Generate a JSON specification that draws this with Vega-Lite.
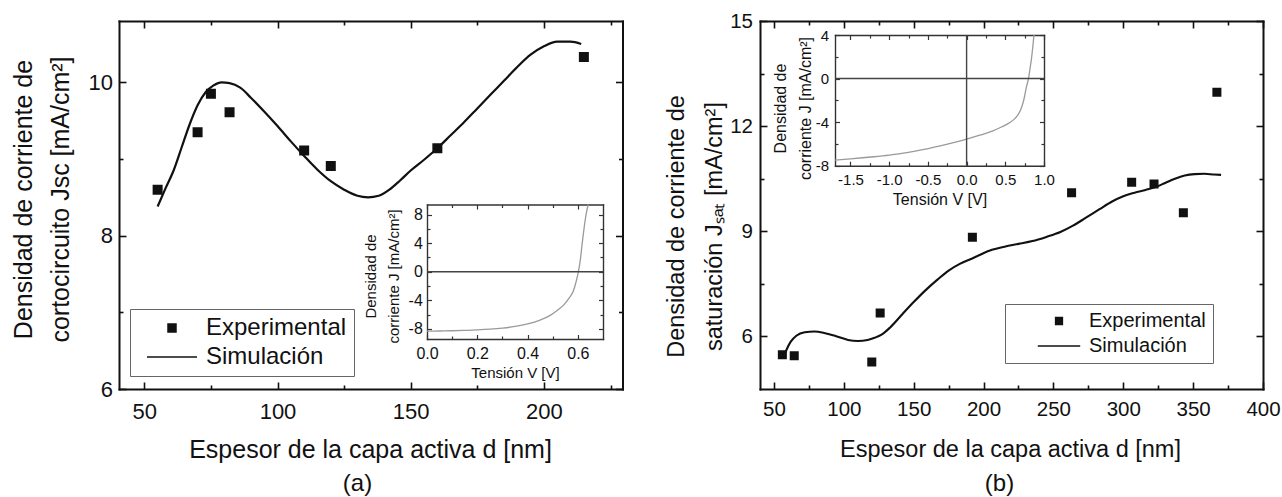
{
"$schema": "https://vega.github.io/schema/vega-lite/v6.json",
"width": 1282, "height": 497, "autosize": {"type": "none"}, "padding": 0, "background": "white",
"config": {
  "view": {"stroke": null},
  "axis": {"grid": false, "labelFont": "Liberation Sans", "titleFont": "Liberation Sans", "labelColor": "#111", "titleColor": "#111", "domainColor": "#111", "tickColor": "#111", "titleFontWeight": "normal", "labelFlush": false, "labelOverlap": false, "labelBound": false, "domainCap": "square", "tickWidth": 1.6, "domainWidth": 2},
  "legend": {"labelFont": "Liberation Sans", "labelColor": "#111"}
},
"datasets": {
  "a_exp": [{"d":55,"J":8.60,"serie":"Experimental"},{"d":70,"J":9.35,"serie":"Experimental"},{"d":75,"J":9.85,"serie":"Experimental"},{"d":82,"J":9.61,"serie":"Experimental"},{"d":110,"J":9.11,"serie":"Experimental"},{"d":120,"J":8.91,"serie":"Experimental"},{"d":160,"J":9.14,"serie":"Experimental"},{"d":215,"J":10.33,"serie":"Experimental"}],
  "a_sim": [{"d":55,"J":8.38},{"d":58,"J":8.62},{"d":61,"J":8.85},{"d":64,"J":9.15},{"d":67,"J":9.45},{"d":70,"J":9.7},{"d":73,"J":9.87},{"d":76,"J":9.96},{"d":79,"J":10.0},{"d":82,"J":9.99},{"d":86,"J":9.93},{"d":90,"J":9.8},{"d":95,"J":9.62},{"d":100,"J":9.43},{"d":105,"J":9.23},{"d":110,"J":9.04},{"d":115,"J":8.86},{"d":120,"J":8.71},{"d":125,"J":8.6},{"d":130,"J":8.52},{"d":134,"J":8.5},{"d":138,"J":8.52},{"d":142,"J":8.6},{"d":146,"J":8.72},{"d":150,"J":8.85},{"d":155,"J":8.99},{"d":160,"J":9.14},{"d":165,"J":9.31},{"d":170,"J":9.48},{"d":175,"J":9.66},{"d":180,"J":9.84},{"d":185,"J":10.02},{"d":190,"J":10.2},{"d":195,"J":10.36},{"d":200,"J":10.47},{"d":205,"J":10.53},{"d":210,"J":10.53},{"d":214,"J":10.5}],
  "b_exp": [{"d":56,"J":5.48,"serie":"Experimental"},{"d":64.5,"J":5.45,"serie":"Experimental"},{"d":120,"J":5.27,"serie":"Experimental"},{"d":126,"J":6.67,"serie":"Experimental"},{"d":192,"J":8.83,"serie":"Experimental"},{"d":263,"J":10.1,"serie":"Experimental"},{"d":306,"J":10.4,"serie":"Experimental"},{"d":322,"J":10.35,"serie":"Experimental"},{"d":343,"J":9.53,"serie":"Experimental"},{"d":367,"J":12.97,"serie":"Experimental"}],
  "b_sim": [{"d":57,"J":5.42},{"d":59,"J":5.62},{"d":62,"J":5.85},{"d":66,"J":6.02},{"d":72,"J":6.12},{"d":79,"J":6.14},{"d":86,"J":6.1},{"d":95,"J":6.0},{"d":103,"J":5.9},{"d":110,"J":5.87},{"d":117,"J":5.9},{"d":122,"J":5.96},{"d":127,"J":6.05},{"d":133,"J":6.25},{"d":142,"J":6.64},{"d":150,"J":6.98},{"d":158,"J":7.3},{"d":167,"J":7.62},{"d":175,"J":7.88},{"d":183,"J":8.07},{"d":191,"J":8.21},{"d":198,"J":8.34},{"d":206,"J":8.47},{"d":215,"J":8.56},{"d":225,"J":8.64},{"d":235,"J":8.72},{"d":245,"J":8.84},{"d":255,"J":8.98},{"d":264,"J":9.16},{"d":273,"J":9.38},{"d":283,"J":9.63},{"d":292,"J":9.85},{"d":300,"J":10.0},{"d":308,"J":10.1},{"d":316,"J":10.18},{"d":323,"J":10.26},{"d":330,"J":10.38},{"d":337,"J":10.5},{"d":344,"J":10.59},{"d":351,"J":10.63},{"d":358,"J":10.64},{"d":365,"J":10.62},{"d":370,"J":10.61}],
  "ia_iv": [{"V":0,"J":-8.3},{"V":0.05,"J":-8.28},{"V":0.1,"J":-8.25},{"V":0.15,"J":-8.2},{"V":0.2,"J":-8.13},{"V":0.25,"J":-8.03},{"V":0.3,"J":-7.88},{"V":0.35,"J":-7.65},{"V":0.4,"J":-7.3},{"V":0.45,"J":-6.75},{"V":0.49,"J":-6.1},{"V":0.52,"J":-5.35},{"V":0.545,"J":-4.6},{"V":0.565,"J":-3.7},{"V":0.582,"J":-2.7},{"V":0.593,"J":-1.4},{"V":0.602,"J":0.0},{"V":0.61,"J":1.7},{"V":0.617,"J":3.9},{"V":0.623,"J":5.6},{"V":0.629,"J":7.2},{"V":0.636,"J":8.6},{"V":0.641,"J":9.4}],
  "ib_iv": [{"V":-1.7,"J":-7.49},{"V":-1.5,"J":-7.38},{"V":-1.2,"J":-7.18},{"V":-1.0,"J":-7.02},{"V":-0.77,"J":-6.79},{"V":-0.55,"J":-6.5},{"V":-0.34,"J":-6.17},{"V":-0.17,"J":-5.88},{"V":0.0,"J":-5.56},{"V":0.17,"J":-5.2},{"V":0.34,"J":-4.8},{"V":0.45,"J":-4.45},{"V":0.56,"J":-4.04},{"V":0.62,"J":-3.7},{"V":0.67,"J":-3.27},{"V":0.7,"J":-2.85},{"V":0.73,"J":-2.2},{"V":0.75,"J":-1.6},{"V":0.77,"J":-0.85},{"V":0.79,"J":-0.3},{"V":0.8,"J":0.0},{"V":0.82,"J":0.95},{"V":0.84,"J":1.93},{"V":0.855,"J":2.9},{"V":0.87,"J":3.9},{"V":0.872,"J":4.0}],
  "one": [{"k":0}]
},
"resolve": {"scale": {"x": "independent", "y": "independent", "shape": "independent"}, "axis": {"x": "independent", "y": "independent"}, "legend": {"shape": "independent"}},
"layer": [
  {"data": {"name": "a_exp"},
   "mark": {"type": "point", "filled": true, "color": "#111", "stroke": "#111", "strokeWidth": 2, "size": 100, "opacity": 1},
   "encoding": {
     "x": {"field": "d", "type": "quantitative", "scale": {"domain": [40.5, 229.5], "range": [119, 622.5], "nice": false, "zero": false},
       "axis": {"orient": "bottom", "offset": -108, "values": [50,100,150,200], "tickSize": -7, "labelFontSize": 22, "labelPadding": 19.4, "title": "Espesor de la capa activa d [nm]", "titleFontSize": 25, "titleX": 370, "titleY": 68, "titleAlign": "center", "titleBaseline": "alphabetic", "titleAngle": 0}},
     "y": {"field": "J", "type": "quantitative", "scale": {"domain": [6, 10.8], "range": [389, 21], "nice": false, "zero": false},
       "axis": {"orient": "left", "offset": -119, "values": [6,8,10], "tickSize": -7, "labelFontSize": 22, "labelPadding": 13.5, "title": ["Densidad de corriente de", "cortocircuito Jsc [mA/cm²]"], "titleFontSize": 25, "titleLineHeight": 37, "titleX": -88, "titleY": 199, "titleAngle": 270, "titleAlign": "center", "titleBaseline": "alphabetic"}},
     "shape": {"field": "serie", "type": "nominal", "scale": {"domain": ["Experimental", "Simulación"], "range": ["M-0.8,-0.8H0.8V0.8H-0.8Z", "M-5,0H5"]},
       "legend": {"orient": "none", "legendX": 130, "legendY": 309, "title": null, "padding": 7, "strokeColor": "#666", "fillColor": "white", "labelFontSize": 24, "symbolSize": 100, "symbolOffset": 23, "labelOffset": 22, "rowPadding": 5,
         "encode": {"symbols": {"update": {"stroke": {"value": "#111"}, "strokeWidth": {"value": 2}, "fill": {"value": "#111"}, "size": {"value": 100}, "opacity": {"value": 1}}}}}}
   }},
  {"data": {"name": "a_sim"},
   "mark": {"type": "line", "color": "#111", "strokeWidth": 2.2, "interpolate": "monotone"},
   "encoding": {
     "x": {"field": "d", "type": "quantitative", "scale": {"domain": [40.5, 229.5], "range": [119, 622.5], "nice": false, "zero": false},
       "axis": {"orient": "bottom", "offset": -108, "values": [75,125,175,225], "tickSize": -4, "labels": false, "domain": false, "title": "(a)", "titleFontSize": 24, "titleX": 357, "titleY": 101, "titleAlign": "center", "titleBaseline": "alphabetic", "titleAngle": 0}},
     "y": {"field": "J", "type": "quantitative", "scale": {"domain": [6, 10.8], "range": [389, 21], "nice": false, "zero": false},
       "axis": {"orient": "left", "offset": -119, "values": [7,9], "tickSize": -4, "labels": false, "domain": false, "title": null}}
   }},
  {"data": {"name": "a_exp"},
   "mark": {"type": "point", "opacity": 0},
   "encoding": {
     "x": {"field": "d", "type": "quantitative", "scale": {"domain": [40.5, 229.5], "range": [119, 622.5], "nice": false, "zero": false},
       "axis": {"orient": "top", "offset": -21, "values": [50,100,150,200], "tickSize": -7, "labels": false, "title": null}},
     "y": {"field": "J", "type": "quantitative", "scale": {"domain": [6, 10.8], "range": [389, 21], "nice": false, "zero": false},
       "axis": {"orient": "right", "offset": -659.5, "values": [6,8,10], "tickSize": -7, "labels": false, "title": null}}
   }},
  {"data": {"name": "a_exp"},
   "mark": {"type": "point", "opacity": 0},
   "encoding": {
     "x": {"field": "d", "type": "quantitative", "scale": {"domain": [40.5, 229.5], "range": [119, 622.5], "nice": false, "zero": false},
       "axis": {"orient": "top", "offset": -21, "values": [75,125,175,225], "tickSize": -4, "labels": false, "domain": false, "title": null}},
     "y": {"field": "J", "type": "quantitative", "scale": {"domain": [6, 10.8], "range": [389, 21], "nice": false, "zero": false},
       "axis": {"orient": "right", "offset": -659.5, "values": [7,9], "tickSize": -4, "labels": false, "domain": false, "title": null}}
   }},

  {"data": {"name": "b_exp"},
   "mark": {"type": "point", "filled": true, "color": "#111", "stroke": "#111", "strokeWidth": 2, "size": 77, "opacity": 1},
   "encoding": {
     "x": {"field": "d", "type": "quantitative", "scale": {"domain": [40, 400], "range": [760, 1263], "nice": false, "zero": false},
       "axis": {"orient": "bottom", "offset": -108, "values": [50,100,150,200,250,300,350,400], "tickSize": -7, "labelFontSize": 20.5, "labelPadding": 17.5, "title": "Espesor de la capa activa d [nm]", "titleFontSize": 23.5, "titleX": 1010, "titleY": 67, "titleAlign": "center", "titleBaseline": "alphabetic", "titleAngle": 0}},
     "y": {"field": "J", "type": "quantitative", "scale": {"domain": [4.5, 15], "range": [389, 21], "nice": false, "zero": false},
       "axis": {"orient": "left", "offset": -760, "values": [6,9,12,15], "tickSize": -7, "labelFontSize": 20.5, "labelPadding": 14.5, "title": ["Densidad de corriente de", "saturación Jₛₐₜ [mA/cm²]"], "titleFontSize": 23.5, "titleLineHeight": 38, "titleX": -77, "titleY": 226, "titleAngle": 270, "titleAlign": "center", "titleBaseline": "alphabetic"}},
     "shape": {"field": "serie", "type": "nominal", "scale": {"domain": ["Experimental", "Simulación"], "range": ["M-0.8,-0.8H0.8V0.8H-0.8Z", "M-5,0H5"]},
       "legend": {"orient": "none", "legendX": 1005, "legendY": 304, "title": null, "padding": 7, "strokeColor": "#666", "fillColor": "white", "labelFontSize": 20, "symbolSize": 72, "symbolOffset": 37, "labelOffset": 20, "rowPadding": 5,
         "encode": {"symbols": {"update": {"stroke": {"value": "#111"}, "strokeWidth": {"value": 2}, "fill": {"value": "#111"}, "size": {"value": 72}, "opacity": {"value": 1}}}}}}
   }},
  {"data": {"name": "b_sim"},
   "mark": {"type": "line", "color": "#111", "strokeWidth": 2.1, "interpolate": "monotone"},
   "encoding": {
     "x": {"field": "d", "type": "quantitative", "scale": {"domain": [40, 400], "range": [760, 1263], "nice": false, "zero": false},
       "axis": {"orient": "bottom", "offset": -108, "values": [75,125,175,225,275,325,375], "tickSize": -4, "labels": false, "domain": false, "title": "(b)", "titleFontSize": 24, "titleX": 999, "titleY": 101, "titleAlign": "center", "titleBaseline": "alphabetic", "titleAngle": 0}},
     "y": {"field": "J", "type": "quantitative", "scale": {"domain": [4.5, 15], "range": [389, 21], "nice": false, "zero": false},
       "axis": {"orient": "left", "offset": -760, "values": [7.5,10.5,13.5], "tickSize": -4, "labels": false, "domain": false, "title": null}}
   }},
  {"data": {"name": "b_exp"},
   "mark": {"type": "point", "opacity": 0},
   "encoding": {
     "x": {"field": "d", "type": "quantitative", "scale": {"domain": [40, 400], "range": [760, 1263], "nice": false, "zero": false},
       "axis": {"orient": "top", "offset": -21, "values": [50,100,150,200,250,300,350,400], "tickSize": -7, "labels": false, "title": null}},
     "y": {"field": "J", "type": "quantitative", "scale": {"domain": [4.5, 15], "range": [389, 21], "nice": false, "zero": false},
       "axis": {"orient": "right", "offset": -19, "values": [6,9,12,15], "tickSize": -7, "labels": false, "title": null}}
   }},
  {"data": {"name": "b_exp"},
   "mark": {"type": "point", "opacity": 0},
   "encoding": {
     "x": {"field": "d", "type": "quantitative", "scale": {"domain": [40, 400], "range": [760, 1263], "nice": false, "zero": false},
       "axis": {"orient": "top", "offset": -21, "values": [75,125,175,225,275,325,375], "tickSize": -4, "labels": false, "domain": false, "title": null}},
     "y": {"field": "J", "type": "quantitative", "scale": {"domain": [4.5, 15], "range": [389, 21], "nice": false, "zero": false},
       "axis": {"orient": "right", "offset": -19, "values": [7.5,10.5,13.5], "tickSize": -4, "labels": false, "domain": false, "title": null}}
   }},

  {"data": {"name": "ia_iv"},
   "mark": {"type": "line", "color": "#9a9a9a", "strokeWidth": 1.3, "interpolate": "monotone"},
   "encoding": {
     "x": {"field": "V", "type": "quantitative", "scale": {"domain": [0, 0.7], "range": [427, 603], "nice": false, "zero": false},
       "axis": {"orient": "bottom", "offset": -158, "values": [0,0.2,0.4,0.6], "format": ".1f", "tickSize": -4.5, "tickWidth": 1.2, "domainWidth": 1.4, "domainColor": "#333", "tickColor": "#333", "labelFontSize": 16, "labelPadding": 11.3, "title": "Tensión V [V]", "titleFontSize": 15, "titleX": 515, "titleY": 38, "titleAlign": "center", "titleBaseline": "alphabetic", "titleAngle": 0}},
     "y": {"field": "J", "type": "quantitative", "scale": {"domain": [-9.4, 9.4], "range": [339, 204.5], "nice": false, "zero": false},
       "axis": {"orient": "left", "offset": -427, "values": [-8,-4,0,4,8], "labelExpr": "replace(datum.label, '\u2212', '-')", "tickSize": -4.5, "tickWidth": 1.2, "domainWidth": 1.4, "domainColor": "#333", "tickColor": "#333", "labelFontSize": 16, "labelPadding": 9.2, "title": ["Densidad de", "corriente J [mA/cm²]"], "titleFontSize": 15, "titleLineHeight": 23, "titleX": -52, "titleY": 276, "titleAngle": 270, "titleAlign": "center", "titleBaseline": "alphabetic"}}
   }},
  {"data": {"name": "one"},
   "mark": {"type": "rule", "color": "#444", "strokeWidth": 1.4},
   "encoding": {
     "x": {"datum": 0, "type": "quantitative", "scale": {"domain": [0, 0.7], "range": [427, 603], "nice": false, "zero": false},
       "axis": {"orient": "bottom", "offset": -158, "values": [0.1,0.3,0.5], "tickSize": -3, "tickWidth": 1.2, "tickColor": "#333", "labels": false, "domain": false, "title": null}},
     "x2": {"datum": 0.7},
     "y": {"datum": 0, "type": "quantitative", "scale": {"domain": [-9.4, 9.4], "range": [339, 204.5], "nice": false, "zero": false},
       "axis": {"orient": "left", "offset": -427, "values": [-6,-2,2,6], "tickSize": -3, "tickWidth": 1.2, "tickColor": "#333", "labels": false, "domain": false, "title": null}}
   }},
  {"data": {"name": "ia_iv"},
   "mark": {"type": "point", "opacity": 0},
   "encoding": {
     "x": {"field": "V", "type": "quantitative", "scale": {"domain": [0, 0.7], "range": [427, 603], "nice": false, "zero": false},
       "axis": {"orient": "top", "offset": -204.5, "values": [0,0.2,0.4,0.6], "tickSize": -4.5, "tickWidth": 1.2, "domainWidth": 1.4, "domainColor": "#333", "tickColor": "#333", "labels": false, "title": null}},
     "y": {"field": "J", "type": "quantitative", "scale": {"domain": [-9.4, 9.4], "range": [339, 204.5], "nice": false, "zero": false},
       "axis": {"orient": "right", "offset": -679, "values": [-8,-4,0,4,8], "tickSize": -4.5, "tickWidth": 1.2, "domainWidth": 1.4, "domainColor": "#333", "tickColor": "#333", "labels": false, "title": null}}
   }},
  {"data": {"name": "ia_iv"},
   "mark": {"type": "point", "opacity": 0},
   "encoding": {
     "x": {"field": "V", "type": "quantitative", "scale": {"domain": [0, 0.7], "range": [427, 603], "nice": false, "zero": false},
       "axis": {"orient": "top", "offset": -204.5, "values": [0.1,0.3,0.5], "tickSize": -3, "tickWidth": 1.2, "tickColor": "#333", "labels": false, "domain": false, "title": null}},
     "y": {"field": "J", "type": "quantitative", "scale": {"domain": [-9.4, 9.4], "range": [339, 204.5], "nice": false, "zero": false},
       "axis": {"orient": "right", "offset": -679, "values": [-6,-2,2,6], "tickSize": -3, "tickWidth": 1.2, "tickColor": "#333", "labels": false, "domain": false, "title": null}}
   }},

  {"data": {"name": "ib_iv"},
   "mark": {"type": "line", "color": "#9a9a9a", "strokeWidth": 1.3, "interpolate": "monotone"},
   "encoding": {
     "x": {"field": "V", "type": "quantitative", "scale": {"domain": [-1.7, 1.0], "range": [835, 1044], "nice": false, "zero": false},
       "axis": {"orient": "bottom", "offset": -331.3, "values": [-1.5,-1,-0.5,0,0.5,1], "format": ".1f", "labelExpr": "replace(datum.label, '\u2212', '-')", "tickSize": -4.5, "tickWidth": 1.2, "domainWidth": 1.4, "domainColor": "#333", "tickColor": "#333", "labelFontSize": 15, "labelPadding": 11, "title": "Tensión V [V]", "titleFontSize": 16, "titleX": 939.5, "titleY": 38.3, "titleAlign": "center", "titleBaseline": "alphabetic", "titleAngle": 0}},
     "y": {"field": "J", "type": "quantitative", "scale": {"domain": [-8, 4], "range": [165.7, 35], "nice": false, "zero": false},
       "axis": {"orient": "left", "offset": -835, "values": [-8,-4,0,4], "labelExpr": "replace(datum.label, '\u2212', '-')", "tickSize": -4.5, "tickWidth": 1.2, "domainWidth": 1.4, "domainColor": "#333", "tickColor": "#333", "labelFontSize": 15, "labelPadding": 11, "title": ["Densidad de", "corriente J [mA/cm²]"], "titleFontSize": 16, "titleLineHeight": 25, "titleX": -50, "titleY": 108, "titleAngle": 270, "titleAlign": "center", "titleBaseline": "alphabetic"}}
   }},
  {"data": {"name": "one"},
   "mark": {"type": "rule", "color": "#444", "strokeWidth": 1.4},
   "encoding": {
     "x": {"datum": -1.7, "type": "quantitative", "scale": {"domain": [-1.7, 1.0], "range": [835, 1044], "nice": false, "zero": false},
       "axis": {"orient": "bottom", "offset": -331.3, "values": [-1.25,-0.75,-0.25,0.25,0.75], "tickSize": -3, "tickWidth": 1.2, "tickColor": "#333", "labels": false, "domain": false, "title": null}},
     "x2": {"datum": 1.0},
     "y": {"datum": 0, "type": "quantitative", "scale": {"domain": [-8, 4], "range": [165.7, 35], "nice": false, "zero": false},
       "axis": {"orient": "left", "offset": -835, "values": [-6,-2,2], "tickSize": -3, "tickWidth": 1.2, "tickColor": "#333", "labels": false, "domain": false, "title": null}}
   }},
  {"data": {"name": "one"},
   "mark": {"type": "rule", "color": "#444", "strokeWidth": 1.4},
   "encoding": {
     "x": {"datum": 0, "type": "quantitative", "scale": {"domain": [-1.7, 1.0], "range": [835, 1044], "nice": false, "zero": false}, "axis": null},
     "y": {"datum": -8, "type": "quantitative", "scale": {"domain": [-8, 4], "range": [165.7, 35], "nice": false, "zero": false}, "axis": null},
     "y2": {"datum": 4}
   }},
  {"data": {"name": "ib_iv"},
   "mark": {"type": "point", "opacity": 0},
   "encoding": {
     "x": {"field": "V", "type": "quantitative", "scale": {"domain": [-1.7, 1.0], "range": [835, 1044], "nice": false, "zero": false},
       "axis": {"orient": "top", "offset": -35, "values": [-1.5,-1,-0.5,0,0.5,1], "tickSize": -4.5, "tickWidth": 1.2, "domainWidth": 1.4, "domainColor": "#333", "tickColor": "#333", "labels": false, "title": null}},
     "y": {"field": "J", "type": "quantitative", "scale": {"domain": [-8, 4], "range": [165.7, 35], "nice": false, "zero": false},
       "axis": {"orient": "right", "offset": -238, "values": [-8,-4,0,4], "tickSize": -4.5, "tickWidth": 1.2, "domainWidth": 1.4, "domainColor": "#333", "tickColor": "#333", "labels": false, "title": null}}
   }},
  {"data": {"name": "ib_iv"},
   "mark": {"type": "point", "opacity": 0},
   "encoding": {
     "x": {"field": "V", "type": "quantitative", "scale": {"domain": [-1.7, 1.0], "range": [835, 1044], "nice": false, "zero": false},
       "axis": {"orient": "top", "offset": -35, "values": [-1.25,-0.75,-0.25,0.25,0.75], "tickSize": -3, "tickWidth": 1.2, "tickColor": "#333", "labels": false, "domain": false, "title": null}},
     "y": {"field": "J", "type": "quantitative", "scale": {"domain": [-8, 4], "range": [165.7, 35], "nice": false, "zero": false},
       "axis": {"orient": "right", "offset": -238, "values": [-6,-2,2], "tickSize": -3, "tickWidth": 1.2, "tickColor": "#333", "labels": false, "domain": false, "title": null}}
   }}
]
}
